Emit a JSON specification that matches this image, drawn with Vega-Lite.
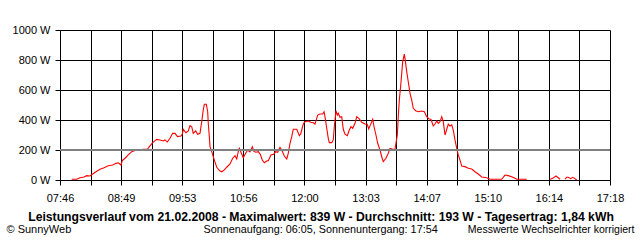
{
  "$schema": "https://vega.github.io/schema/vega-lite/v6.json",
  "width": 550,
  "height": 150,
  "autosize": "none",
  "padding": {"left": 60, "top": 30, "right": 30, "bottom": 60},
  "background": "white",
  "config": {"view": {"stroke": null}},
  "data": {
    "values": [
      {"t": 478.2, "w": 5, "seg": 1}, {"t": 483.4, "w": 5, "seg": 1}, {"t": 486.8, "w": 15, "seg": 1}, {"t": 491.0, "w": 20, "seg": 1},
      {"t": 493.8, "w": 29, "seg": 1}, {"t": 497.2, "w": 27, "seg": 1}, {"t": 500.0, "w": 40, "seg": 1}, {"t": 503.4, "w": 55, "seg": 1},
      {"t": 507.6, "w": 71, "seg": 1}, {"t": 511.8, "w": 82, "seg": 1}, {"t": 516.2, "w": 95, "seg": 1}, {"t": 520.8, "w": 100, "seg": 1},
      {"t": 524.2, "w": 111, "seg": 1}, {"t": 526.6, "w": 115, "seg": 1}, {"t": 529.4, "w": 100, "seg": 1}, {"t": 530.8, "w": 129, "seg": 1},
      {"t": 533.6, "w": 145, "seg": 1}, {"t": 537.0, "w": 167, "seg": 1}, {"t": 540.6, "w": 189, "seg": 1}, {"t": 544.0, "w": 197, "seg": 1},
      {"t": 548.2, "w": 198, "seg": 1}, {"t": 552.6, "w": 205, "seg": 1}, {"t": 556.8, "w": 205, "seg": 1}, {"t": 559.6, "w": 227, "seg": 1},
      {"t": 562.4, "w": 249, "seg": 1}, {"t": 566.6, "w": 271, "seg": 1}, {"t": 570.0, "w": 267, "seg": 1}, {"t": 573.4, "w": 260, "seg": 1},
      {"t": 575.2, "w": 267, "seg": 1}, {"t": 577.6, "w": 253, "seg": 1}, {"t": 580.4, "w": 278, "seg": 1}, {"t": 583.2, "w": 311, "seg": 1},
      {"t": 585.6, "w": 311, "seg": 1}, {"t": 588.2, "w": 289, "seg": 1}, {"t": 591.8, "w": 293, "seg": 1}, {"t": 593.2, "w": 307, "seg": 1},
      {"t": 594.2, "w": 338, "seg": 1}, {"t": 597.0, "w": 315, "seg": 1}, {"t": 599.4, "w": 327, "seg": 1}, {"t": 601.2, "w": 362, "seg": 1},
      {"t": 603.0, "w": 355, "seg": 1}, {"t": 604.6, "w": 311, "seg": 1}, {"t": 607.1, "w": 327, "seg": 1}, {"t": 609.2, "w": 305, "seg": 1},
      {"t": 611.6, "w": 311, "seg": 1}, {"t": 613.4, "w": 389, "seg": 1}, {"t": 615.0, "w": 467, "seg": 1}, {"t": 616.1, "w": 505, "seg": 1},
      {"t": 618.2, "w": 505, "seg": 1}, {"t": 619.6, "w": 455, "seg": 1}, {"t": 620.2, "w": 378, "seg": 1}, {"t": 621.3, "w": 289, "seg": 1},
      {"t": 622.0, "w": 222, "seg": 1}, {"t": 623.8, "w": 189, "seg": 1}, {"t": 626.5, "w": 133, "seg": 1}, {"t": 629.0, "w": 85, "seg": 1},
      {"t": 632.4, "w": 60, "seg": 1}, {"t": 634.2, "w": 55, "seg": 1}, {"t": 636.9, "w": 67, "seg": 1}, {"t": 639.4, "w": 85, "seg": 1},
      {"t": 642.8, "w": 107, "seg": 1}, {"t": 645.6, "w": 145, "seg": 1}, {"t": 648.0, "w": 162, "seg": 1}, {"t": 649.8, "w": 140, "seg": 1},
      {"t": 651.4, "w": 189, "seg": 1}, {"t": 652.5, "w": 211, "seg": 1}, {"t": 654.2, "w": 185, "seg": 1}, {"t": 656.6, "w": 149, "seg": 1},
      {"t": 659.1, "w": 178, "seg": 1}, {"t": 661.2, "w": 200, "seg": 1}, {"t": 663.6, "w": 187, "seg": 1}, {"t": 666.0, "w": 222, "seg": 1},
      {"t": 667.8, "w": 189, "seg": 1}, {"t": 669.8, "w": 185, "seg": 1}, {"t": 672.2, "w": 189, "seg": 1}, {"t": 674.3, "w": 171, "seg": 1},
      {"t": 676.4, "w": 133, "seg": 1}, {"t": 678.5, "w": 115, "seg": 1}, {"t": 681.0, "w": 127, "seg": 1}, {"t": 682.6, "w": 129, "seg": 1},
      {"t": 685.4, "w": 167, "seg": 1}, {"t": 688.2, "w": 171, "seg": 1}, {"t": 690.3, "w": 189, "seg": 1}, {"t": 692.4, "w": 185, "seg": 1},
      {"t": 694.8, "w": 218, "seg": 1}, {"t": 696.6, "w": 200, "seg": 1}, {"t": 699.3, "w": 160, "seg": 1}, {"t": 701.8, "w": 140, "seg": 1},
      {"t": 703.4, "w": 178, "seg": 1}, {"t": 705.2, "w": 245, "seg": 1}, {"t": 707.0, "w": 289, "seg": 1}, {"t": 708.6, "w": 338, "seg": 1},
      {"t": 712.2, "w": 338, "seg": 1}, {"t": 714.9, "w": 295, "seg": 1}, {"t": 716.3, "w": 307, "seg": 1}, {"t": 719.0, "w": 373, "seg": 1},
      {"t": 720.8, "w": 389, "seg": 1}, {"t": 724.2, "w": 393, "seg": 1}, {"t": 726.7, "w": 385, "seg": 1}, {"t": 729.4, "w": 382, "seg": 1},
      {"t": 731.2, "w": 373, "seg": 1}, {"t": 734.0, "w": 433, "seg": 1}, {"t": 736.4, "w": 440, "seg": 1}, {"t": 739.2, "w": 440, "seg": 1},
      {"t": 740.6, "w": 455, "seg": 1}, {"t": 741.9, "w": 411, "seg": 1}, {"t": 743.4, "w": 345, "seg": 1}, {"t": 745.0, "w": 278, "seg": 1},
      {"t": 746.1, "w": 249, "seg": 1}, {"t": 748.6, "w": 249, "seg": 1}, {"t": 750.2, "w": 267, "seg": 1}, {"t": 751.3, "w": 355, "seg": 1},
      {"t": 753.0, "w": 462, "seg": 1}, {"t": 754.4, "w": 433, "seg": 1}, {"t": 755.4, "w": 445, "seg": 1}, {"t": 757.2, "w": 418, "seg": 1},
      {"t": 759.0, "w": 422, "seg": 1}, {"t": 760.6, "w": 338, "seg": 1}, {"t": 762.4, "w": 305, "seg": 1}, {"t": 764.8, "w": 295, "seg": 1},
      {"t": 766.9, "w": 333, "seg": 1}, {"t": 768.6, "w": 355, "seg": 1}, {"t": 770.4, "w": 345, "seg": 1}, {"t": 772.8, "w": 378, "seg": 1},
      {"t": 774.6, "w": 422, "seg": 1}, {"t": 777.3, "w": 407, "seg": 1}, {"t": 779.8, "w": 385, "seg": 1}, {"t": 783.2, "w": 373, "seg": 1},
      {"t": 785.6, "w": 371, "seg": 1}, {"t": 787.0, "w": 340, "seg": 1}, {"t": 789.1, "w": 371, "seg": 1}, {"t": 791.2, "w": 405, "seg": 1},
      {"t": 792.6, "w": 355, "seg": 1}, {"t": 794.6, "w": 300, "seg": 1}, {"t": 796.4, "w": 245, "seg": 1}, {"t": 798.8, "w": 200, "seg": 1},
      {"t": 800.6, "w": 155, "seg": 1}, {"t": 802.2, "w": 122, "seg": 1}, {"t": 805.0, "w": 145, "seg": 1}, {"t": 807.4, "w": 178, "seg": 1},
      {"t": 809.2, "w": 211, "seg": 1}, {"t": 812.0, "w": 205, "seg": 1}, {"t": 814.4, "w": 205, "seg": 1}, {"t": 815.4, "w": 245, "seg": 1},
      {"t": 816.8, "w": 300, "seg": 1}, {"t": 817.8, "w": 422, "seg": 1}, {"t": 818.9, "w": 533, "seg": 1}, {"t": 820.1, "w": 613, "seg": 1},
      {"t": 821.4, "w": 711, "seg": 1}, {"t": 822.4, "w": 789, "seg": 1}, {"t": 824.1, "w": 839, "seg": 1}, {"t": 824.8, "w": 811, "seg": 1},
      {"t": 826.6, "w": 722, "seg": 1}, {"t": 828.2, "w": 655, "seg": 1}, {"t": 830.0, "w": 578, "seg": 1}, {"t": 831.8, "w": 533, "seg": 1},
      {"t": 833.4, "w": 478, "seg": 1}, {"t": 835.9, "w": 462, "seg": 1}, {"t": 838.6, "w": 455, "seg": 1}, {"t": 842.2, "w": 460, "seg": 1},
      {"t": 844.9, "w": 455, "seg": 1}, {"t": 847.4, "w": 422, "seg": 1}, {"t": 849.8, "w": 407, "seg": 1}, {"t": 851.8, "w": 405, "seg": 1},
      {"t": 854.2, "w": 360, "seg": 1}, {"t": 856.0, "w": 373, "seg": 1}, {"t": 857.8, "w": 393, "seg": 1}, {"t": 859.4, "w": 378, "seg": 1},
      {"t": 861.2, "w": 389, "seg": 1}, {"t": 863.0, "w": 422, "seg": 1}, {"t": 864.6, "w": 389, "seg": 1}, {"t": 866.4, "w": 300, "seg": 1},
      {"t": 868.2, "w": 338, "seg": 1}, {"t": 869.8, "w": 373, "seg": 1}, {"t": 871.6, "w": 360, "seg": 1}, {"t": 873.4, "w": 367, "seg": 1},
      {"t": 875.0, "w": 333, "seg": 1}, {"t": 876.8, "w": 267, "seg": 1}, {"t": 878.6, "w": 211, "seg": 1}, {"t": 880.2, "w": 167, "seg": 1},
      {"t": 882.0, "w": 133, "seg": 1}, {"t": 883.8, "w": 93, "seg": 1}, {"t": 887.2, "w": 89, "seg": 1}, {"t": 890.6, "w": 78, "seg": 1},
      {"t": 894.2, "w": 73, "seg": 1}, {"t": 897.6, "w": 55, "seg": 1}, {"t": 901.0, "w": 40, "seg": 1}, {"t": 904.6, "w": 20, "seg": 1},
      {"t": 909.8, "w": 15, "seg": 1}, {"t": 913.2, "w": 5, "seg": 1}, {"t": 925.4, "w": 5, "seg": 1}, {"t": 928.8, "w": 33, "seg": 1},
      {"t": 932.2, "w": 29, "seg": 1}, {"t": 935.8, "w": 22, "seg": 1}, {"t": 939.2, "w": 11, "seg": 1}, {"t": 941.0, "w": 5, "seg": 1},
      {"t": 951.4, "w": 5, "seg": 1},
      {"t": 975.6, "w": 5, "seg": 2}, {"t": 978.4, "w": 11, "seg": 2}, {"t": 981.8, "w": 27, "seg": 2}, {"t": 984.2, "w": 15, "seg": 2},
      {"t": 986.0, "w": 5, "seg": 2},
      {"t": 991.2, "w": 5, "seg": 3}, {"t": 992.9, "w": 18, "seg": 3}, {"t": 994.6, "w": 18, "seg": 3}, {"t": 997.1, "w": 9, "seg": 3},
      {"t": 999.2, "w": 18, "seg": 3}, {"t": 1001.6, "w": 9, "seg": 3}, {"t": 1003.4, "w": 0, "seg": 3}
    ]
  },
  "resolve": {"axis": {"x": "independent", "y": "independent"}},
  "layer": [
    {
      "mark": {"type": "line", "color": "#ff0000", "strokeWidth": 1.1, "interpolate": "linear"},
      "encoding": {
        "x": {
          "field": "t", "type": "quantitative",
          "scale": {"domain": [466, 1038], "nice": false, "zero": false},
          "axis": {
            "orient": "bottom",
            "values": [466, 497.7778, 529.5556, 561.3333, 593.1111, 624.8889, 656.6667, 688.4444, 720.2222, 752, 783.7778, 815.5556, 847.3333, 879.1111, 910.8889, 942.6667, 974.4444, 1006.2222, 1038],
            "grid": true, "gridColor": "black", "gridOpacity": 1, "gridWidth": 1,
            "ticks": true, "tickSize": 5, "tickColor": "black", "tickWidth": 1,
            "domain": true, "domainColor": "black", "domainWidth": 1,
            "labelExpr": "round((datum.value-466)/31.77778)%2==0 ? (floor(datum.value/60)<10?'0':'') + floor(datum.value/60) + ':' + (floor(datum.value%60)<10?'0':'') + floor(datum.value%60) : ''",
            "labelFont": "Liberation Sans", "labelFontSize": 11, "labelColor": "black", "labelPadding": 7,
            "labelOverlap": false, "labelFlush": false, "labelBound": false, "labelAlign": "center",
            "title": "Leistungsverlauf vom 21.02.2008 - Maximalwert: 839 W - Durchschnitt: 193 W - Tagesertrag: 1,84 kWh",
            "titleFont": "Liberation Sans", "titleFontSize": 12.2, "titleFontWeight": "bold", "titleColor": "black",
            "titleX": 260.5, "titleY": 40, "titleAlign": "center", "titleBaseline": "alphabetic", "titleAnchor": null
          }
        },
        "y": {
          "field": "w", "type": "quantitative",
          "scale": {"domain": [0, 1000], "nice": false},
          "axis": {
            "orient": "left",
            "values": [0, 200, 400, 600, 800, 1000],
            "grid": true, "gridColor": "black", "gridOpacity": 1, "gridWidth": 1,
            "ticks": true, "tickSize": 5, "tickColor": "black", "tickWidth": 1,
            "domain": true, "domainColor": "black", "domainWidth": 1,
            "labelExpr": "datum.value + ' W'",
            "labelFont": "Liberation Sans", "labelFontSize": 11, "labelColor": "black", "labelPadding": 5,
            "labelOverlap": false, "labelFlush": false, "labelBound": false, "labelBaseline": "middle",
            "title": "© SunnyWeb",
            "titleFont": "Liberation Sans", "titleFontSize": 11, "titleFontWeight": "normal", "titleColor": "black",
            "titleAngle": 0, "titleX": -54, "titleY": 202.5, "titleAlign": "left", "titleBaseline": "alphabetic", "titleAnchor": null
          }
        },
        "detail": {"field": "seg", "type": "nominal"}
      }
    },
    {
      "mark": {"type": "rule", "color": "#808080", "strokeWidth": 2},
      "encoding": {
        "x": {
          "datum": 466, "type": "quantitative",
          "axis": {
            "orient": "top", "labels": false, "ticks": false, "domain": false, "grid": false,
            "title": "Sonnenaufgang: 06:05, Sonnenuntergang: 17:54",
            "titleFont": "Liberation Sans", "titleFontSize": 10.8, "titleFontWeight": "normal", "titleColor": "black",
            "titleAngle": 0, "titleX": 143, "titleY": 202.5, "titleAlign": "left", "titleBaseline": "alphabetic", "titleAnchor": null
          }
        },
        "x2": {"datum": 1038},
        "y": {
          "datum": 200, "type": "quantitative",
          "axis": {
            "orient": "right", "labels": false, "ticks": false, "domain": false, "grid": false,
            "title": "Messwerte Wechselrichter korrigiert",
            "titleFont": "Liberation Sans", "titleFontSize": 10.5, "titleFontWeight": "normal", "titleColor": "black",
            "titleAngle": 0, "titleX": 24, "titleY": 202.5, "titleAlign": "right", "titleBaseline": "alphabetic", "titleAnchor": null
          }
        }
      }
    }
  ]
}
